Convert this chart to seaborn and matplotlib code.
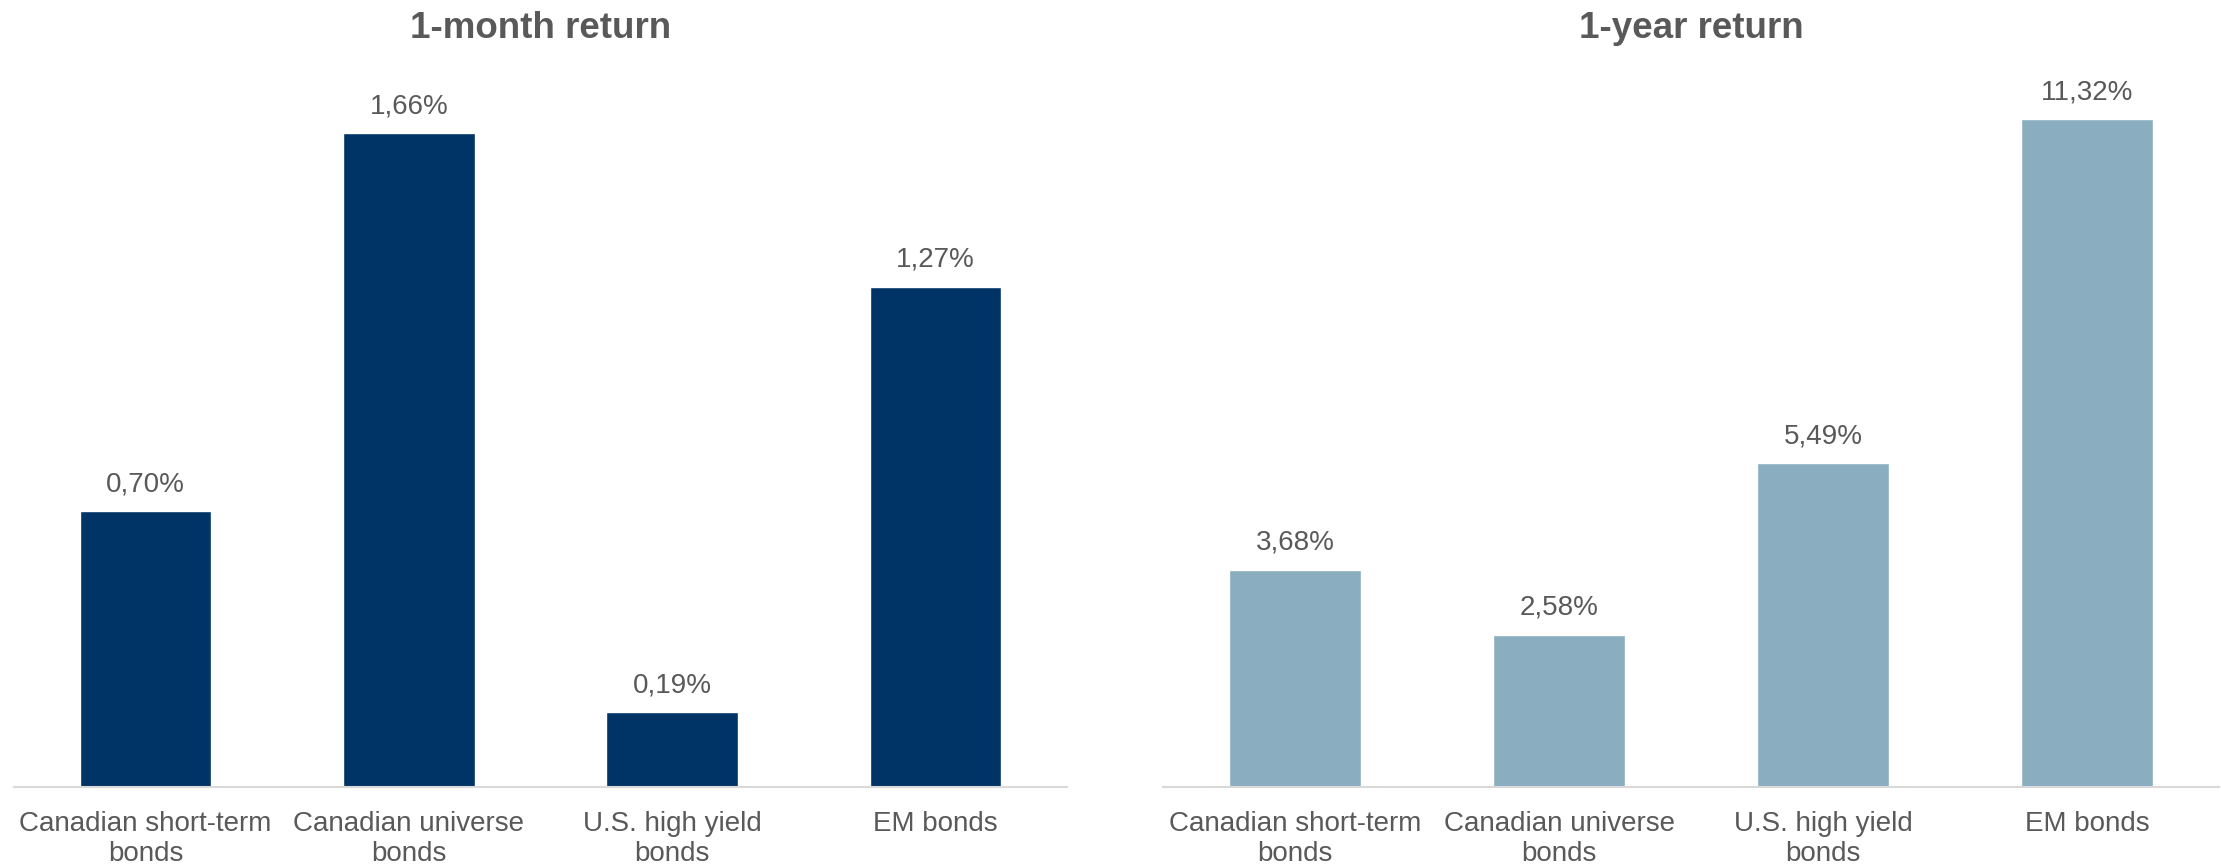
import matplotlib
matplotlib.use("Agg")
import matplotlib.pyplot as plt
import seaborn as sns
import pandas as pd

# === data ===
categories = ["Canadian short-term\nbonds", "Canadian universe\nbonds",
              "U.S. high yield\nbonds", "EM bonds"]
month_return = [0.70, 1.66, 0.19, 1.27]
year_return = [3.68, 2.58, 5.49, 11.32]
titles = ["1-month return", "1-year return"]

dark_blue = "#003366"
light_blue = "#8AAEC0"
text_grey = "#595959"

sns.set_theme(style="white")
plt.rcParams["font.family"] = ["Liberation Sans", "DejaVu Sans"]

fig = plt.figure(figsize=(22.21, 8.65), dpi=100)
W, H = 2221, 865
bottom = 1 - 787 / H
top_px = 60
height = (787 - top_px) / H
ax1 = fig.add_axes([14 / W, bottom, 1053 / W, height])
ax2 = fig.add_axes([1163 / W, bottom, 1056 / W, height])

panels = [
    (ax1, month_return, dark_blue, titles[0], 1.845),
    (ax2, year_return, light_blue, titles[1], 12.32),
]

for ax, vals, col, title, ytop in panels:
    df = pd.DataFrame({"cat": categories, "val": vals})
    sns.barplot(data=df, x="cat", y="val", color=col, width=0.5,
                saturation=1, ax=ax)
    ax.set_xlim(-0.5, 3.5)
    ax.set_ylim(0, ytop)
    labels = [f"{v:.2f}%".replace(".", ",") for v in vals]
    ax.bar_label(ax.containers[0], labels=labels, padding=10,
                 fontsize=20, color=text_grey)
    ax.set_xlabel("")
    ax.set_ylabel("")
    ax.set_yticks([])
    ax.tick_params(axis="x", length=0, pad=17, labelsize=20,
                   labelcolor=text_grey)
    for s in ["top", "right", "left"]:
        ax.spines[s].set_visible(False)
    ax.spines["bottom"].set_color("#D9D9D9")
    ax.spines["bottom"].set_linewidth(1.5)
    fig.text((ax.get_position().x0 + ax.get_position().x1) / 2, 1 - 28 / H,
             title, ha="center", va="center", fontsize=26.5,
             fontweight="bold", color=text_grey)

fig.savefig("out.png", dpi=100, facecolor="white")
